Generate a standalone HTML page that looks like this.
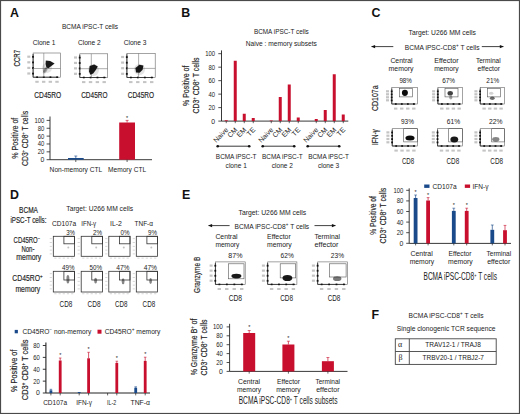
<!DOCTYPE html>
<html><head><meta charset="utf-8"><style>
html,body{margin:0;padding:0;background:#fff;}
svg{display:block;}
text{font-family:"Liberation Sans", sans-serif;}
.c{stroke:#333;stroke-width:0.18px;}
</style></head><body>
<svg width="520" height="414" viewBox="0 0 520 414" fill="#222">
<defs><filter id="bl" x="-50%" y="-50%" width="200%" height="200%"><feGaussianBlur stdDeviation="0.6"/></filter></defs>
<rect x="0.5" y="0.5" width="519" height="413" fill="#fff" stroke="#4a4a4a" stroke-width="1.2"/>
<text x="10" y="17" font-size="12.4" font-weight="bold" fill="#111" >A</text>
<text x="181.2" y="17" font-size="12.4" font-weight="bold" fill="#111" >B</text>
<text x="371.4" y="17.4" font-size="12.4" font-weight="bold" fill="#111" >C</text>
<text x="10" y="199" font-size="12.4" font-weight="bold" fill="#111" >D</text>
<text x="182" y="199.4" font-size="12.4" font-weight="bold" fill="#111" >E</text>
<text x="371.5" y="318.8" font-size="12.4" font-weight="bold" fill="#111" >F</text>
<text x="61.9" y="29.1" font-size="6.8" textLength="56.2" lengthAdjust="spacingAndGlyphs" >BCMA iPSC-T cells</text>
<text x="32.7" y="44.9" font-size="6.8" textLength="22.7" lengthAdjust="spacingAndGlyphs" >Clone 1</text>
<text x="77.9" y="44.9" font-size="6.8" textLength="22.9" lengthAdjust="spacingAndGlyphs" >Clone 2</text>
<text x="123.7" y="44.9" font-size="6.8" textLength="22.8" lengthAdjust="spacingAndGlyphs" >Clone 3</text>
<text transform="translate(19.5 58.2) rotate(-90)" font-size="9.2" text-anchor="middle" textLength="16.5" lengthAdjust="spacingAndGlyphs" class="c" >CCR7</text>
<rect x="33.1" y="53.0" width="27.4" height="24.200000000000003" fill="none" stroke="#666" stroke-width="0.6"/>
<line x1="33.1" y1="54.0" x2="33.1" y2="77.2" stroke="#333" stroke-width="0.9" />
<line x1="33.1" y1="77.2" x2="58.5" y2="77.2" stroke="#333" stroke-width="0.9" />
<rect x="32.1" y="55.9" width="1.8" height="1.8" fill="#111" />
<rect x="36.2" y="76.4" width="1.8" height="1.6" fill="#111" />
<rect x="27.3" y="55.599999999999994" width="3.0" height="2.2" fill="#c4c4c4" />
<rect x="35.300000000000004" y="80.8" width="3.4" height="2.0" fill="#c4c4c4" />
<rect x="32.1" y="61.5" width="1.8" height="1.8" fill="#111" />
<rect x="42.86666666666667" y="76.4" width="1.8" height="1.6" fill="#111" />
<rect x="27.3" y="61.199999999999996" width="3.0" height="2.2" fill="#c4c4c4" />
<rect x="41.96666666666667" y="80.8" width="3.4" height="2.0" fill="#c4c4c4" />
<rect x="32.1" y="67.1" width="1.8" height="1.8" fill="#111" />
<rect x="49.53333333333334" y="76.4" width="1.8" height="1.6" fill="#111" />
<rect x="27.3" y="66.8" width="3.0" height="2.2" fill="#c4c4c4" />
<rect x="48.63333333333334" y="80.8" width="3.4" height="2.0" fill="#c4c4c4" />
<rect x="32.1" y="72.69999999999999" width="1.8" height="1.8" fill="#111" />
<rect x="56.2" y="76.4" width="1.8" height="1.6" fill="#111" />
<rect x="27.3" y="72.39999999999999" width="3.0" height="2.2" fill="#c4c4c4" />
<rect x="55.300000000000004" y="80.8" width="3.4" height="2.0" fill="#c4c4c4" />
<line x1="43.8" y1="53.0" x2="43.8" y2="77.2" stroke="#777" stroke-width="0.6" />
<line x1="33.1" y1="68.5" x2="60.5" y2="68.5" stroke="#777" stroke-width="0.6" />
<rect x="79.8" y="53.8" width="27.900000000000006" height="23.700000000000003" fill="none" stroke="#666" stroke-width="0.6"/>
<line x1="79.8" y1="54.8" x2="79.8" y2="77.5" stroke="#333" stroke-width="0.9" />
<line x1="79.8" y1="77.5" x2="105.7" y2="77.5" stroke="#333" stroke-width="0.9" />
<rect x="78.8" y="56.699999999999996" width="1.8" height="1.8" fill="#111" />
<rect x="82.89999999999999" y="76.7" width="1.8" height="1.6" fill="#111" />
<rect x="74.0" y="56.39999999999999" width="3.0" height="2.2" fill="#c4c4c4" />
<rect x="82.0" y="81.1" width="3.4" height="2.0" fill="#c4c4c4" />
<rect x="78.8" y="62.13333333333333" width="1.8" height="1.8" fill="#111" />
<rect x="89.73333333333332" y="76.7" width="1.8" height="1.6" fill="#111" />
<rect x="74.0" y="61.83333333333333" width="3.0" height="2.2" fill="#c4c4c4" />
<rect x="88.83333333333333" y="81.1" width="3.4" height="2.0" fill="#c4c4c4" />
<rect x="78.8" y="67.56666666666666" width="1.8" height="1.8" fill="#111" />
<rect x="96.56666666666666" y="76.7" width="1.8" height="1.6" fill="#111" />
<rect x="74.0" y="67.26666666666667" width="3.0" height="2.2" fill="#c4c4c4" />
<rect x="95.66666666666667" y="81.1" width="3.4" height="2.0" fill="#c4c4c4" />
<rect x="78.8" y="73.0" width="1.8" height="1.8" fill="#111" />
<rect x="103.4" y="76.7" width="1.8" height="1.6" fill="#111" />
<rect x="74.0" y="72.7" width="3.0" height="2.2" fill="#c4c4c4" />
<rect x="102.50000000000001" y="81.1" width="3.4" height="2.0" fill="#c4c4c4" />
<line x1="91.3" y1="53.8" x2="91.3" y2="77.5" stroke="#777" stroke-width="0.6" />
<line x1="79.8" y1="68.7" x2="107.7" y2="68.7" stroke="#777" stroke-width="0.6" />
<rect x="126.9" y="53.3" width="28.299999999999983" height="24.200000000000003" fill="none" stroke="#666" stroke-width="0.6"/>
<line x1="126.9" y1="54.3" x2="126.9" y2="77.5" stroke="#333" stroke-width="0.9" />
<line x1="126.9" y1="77.5" x2="153.2" y2="77.5" stroke="#333" stroke-width="0.9" />
<rect x="125.9" y="56.199999999999996" width="1.8" height="1.8" fill="#111" />
<rect x="130.0" y="76.7" width="1.8" height="1.6" fill="#111" />
<rect x="121.10000000000001" y="55.89999999999999" width="3.0" height="2.2" fill="#c4c4c4" />
<rect x="129.1" y="81.1" width="3.4" height="2.0" fill="#c4c4c4" />
<rect x="125.9" y="61.8" width="1.8" height="1.8" fill="#111" />
<rect x="136.96666666666667" y="76.7" width="1.8" height="1.6" fill="#111" />
<rect x="121.10000000000001" y="61.49999999999999" width="3.0" height="2.2" fill="#c4c4c4" />
<rect x="136.06666666666666" y="81.1" width="3.4" height="2.0" fill="#c4c4c4" />
<rect x="125.9" y="67.39999999999999" width="1.8" height="1.8" fill="#111" />
<rect x="143.9333333333333" y="76.7" width="1.8" height="1.6" fill="#111" />
<rect x="121.10000000000001" y="67.1" width="3.0" height="2.2" fill="#c4c4c4" />
<rect x="143.0333333333333" y="81.1" width="3.4" height="2.0" fill="#c4c4c4" />
<rect x="125.9" y="73.0" width="1.8" height="1.8" fill="#111" />
<rect x="150.89999999999998" y="76.7" width="1.8" height="1.6" fill="#111" />
<rect x="121.10000000000001" y="72.7" width="3.0" height="2.2" fill="#c4c4c4" />
<rect x="149.99999999999997" y="81.1" width="3.4" height="2.0" fill="#c4c4c4" />
<line x1="138.6" y1="53.3" x2="138.6" y2="77.5" stroke="#777" stroke-width="0.6" />
<line x1="126.9" y1="68.4" x2="155.2" y2="68.4" stroke="#777" stroke-width="0.6" />
<ellipse cx="47" cy="68" rx="5" ry="5" fill="#444" opacity="0.14" transform="rotate(0 47 68)" filter="url(#bl)"/>
<ellipse cx="93.5" cy="70" rx="5.5" ry="6" fill="#444" opacity="0.14" transform="rotate(0 93.5 70)" filter="url(#bl)"/>
<ellipse cx="139.5" cy="69.5" rx="5.5" ry="5.5" fill="#444" opacity="0.14" transform="rotate(0 139.5 69.5)" filter="url(#bl)"/>
<ellipse cx="45.2" cy="70.2" rx="1.5" ry="3.2" fill="#111" opacity="0.45" transform="rotate(30 45.2 70.2)" filter="url(#bl)"/>
<path d="M45.8 60.6 L50.2 61.0 L54.6 63.6 L51.4 66.0 L48.4 68.2 L46.4 67.6 L45.6 64 Z" fill="#111" opacity="0.95" filter="url(#bl)"/>
<path d="M89.6 66.0 L94.2 64.4 L97.8 66.4 L95.8 70.0 L93.2 73.6 L90.4 74.8 L89.0 71.5 Z" fill="#111" opacity="0.95" filter="url(#bl)"/>
<path d="M135.4 68.0 L139.4 64.8 L143.4 65.6 L142.6 69.8 L139.6 72.8 L136.0 72.4 Z" fill="#111" opacity="0.95" filter="url(#bl)"/>
<text x="34.3" y="97.8" font-size="9.4" textLength="26.9" lengthAdjust="spacingAndGlyphs" class="c" >CD45RO</text>
<text x="81.2" y="97.8" font-size="9.4" textLength="26.3" lengthAdjust="spacingAndGlyphs" class="c" >CD45RO</text>
<text x="127.7" y="97.8" font-size="9.4" textLength="26.4" lengthAdjust="spacingAndGlyphs" class="c" >CD45RO</text>
<line x1="50" y1="116.5" x2="50" y2="159.7" stroke="#222" stroke-width="0.9" />
<line x1="50" y1="159.7" x2="152" y2="159.7" stroke="#222" stroke-width="0.9" />
<line x1="46.6" y1="159.7" x2="50" y2="159.7" stroke="#222" stroke-width="0.8" />
<text x="44.4" y="162.17" font-size="6.9" text-anchor="end" >0</text>
<line x1="46.6" y1="151.84" x2="50" y2="151.84" stroke="#222" stroke-width="0.8" />
<text x="44.4" y="154.31" font-size="6.9" text-anchor="end" textLength="6.6" lengthAdjust="spacingAndGlyphs" >20</text>
<line x1="46.6" y1="143.98" x2="50" y2="143.98" stroke="#222" stroke-width="0.8" />
<text x="44.4" y="146.45" font-size="6.9" text-anchor="end" textLength="6.6" lengthAdjust="spacingAndGlyphs" >40</text>
<line x1="46.6" y1="136.12" x2="50" y2="136.12" stroke="#222" stroke-width="0.8" />
<text x="44.4" y="138.59" font-size="6.9" text-anchor="end" textLength="6.6" lengthAdjust="spacingAndGlyphs" >60</text>
<line x1="46.6" y1="128.26" x2="50" y2="128.26" stroke="#222" stroke-width="0.8" />
<text x="44.4" y="130.73" font-size="6.9" text-anchor="end" textLength="6.6" lengthAdjust="spacingAndGlyphs" >80</text>
<line x1="46.6" y1="120.4" x2="50" y2="120.4" stroke="#222" stroke-width="0.8" />
<text x="44.4" y="122.87" font-size="6.9" text-anchor="end" textLength="9.9" lengthAdjust="spacingAndGlyphs" >100</text>
<text transform="translate(18.2 138.2) rotate(-90)" font-size="9.0" text-anchor="middle" textLength="41" lengthAdjust="spacingAndGlyphs" class="c" >% Positive of</text>
<text transform="translate(27.6 138.4) rotate(-90)" font-size="9.0" text-anchor="middle" textLength="55" lengthAdjust="spacingAndGlyphs" class="c" >CD3<tspan font-size="5" dy="-3">+</tspan><tspan dy="3"> CD8</tspan><tspan font-size="5" dy="-3">+</tspan><tspan dy="3"> T cells</tspan></text>
<rect x="68" y="158" width="15.7" height="1.7" fill="#1b4a8b" />
<line x1="75.8" y1="156" x2="75.8" y2="158" stroke="#1b4a8b" stroke-width="0.7" />
<line x1="74.3" y1="156" x2="77.3" y2="156" stroke="#1b4a8b" stroke-width="0.6" />
<rect x="119.2" y="122.5" width="15.8" height="37.2" fill="#c8102e" />
<line x1="127.1" y1="120.4" x2="127.1" y2="122.5" stroke="#c8102e" stroke-width="0.7" />
<line x1="125.6" y1="120.4" x2="128.6" y2="120.4" stroke="#c8102e" stroke-width="0.6" />
<text x="127.1" y="119.6" font-size="5.5" text-anchor="middle" >*</text>
<line x1="75.8" y1="159.7" x2="75.8" y2="162" stroke="#222" stroke-width="0.7" />
<line x1="127.1" y1="159.7" x2="127.1" y2="162" stroke="#222" stroke-width="0.7" />
<text x="49.6" y="172.3" font-size="7.0" textLength="52.7" lengthAdjust="spacingAndGlyphs" >Non-memory CTL</text>
<text x="108.1" y="172.3" font-size="7.0" textLength="38.0" lengthAdjust="spacingAndGlyphs" >Memory CTL</text>
<text x="253.9" y="33.7" font-size="6.5" textLength="54.9" lengthAdjust="spacingAndGlyphs" >BCMA iPSC-T cells</text>
<text x="245.8" y="46.0" font-size="6.5" textLength="71.1" lengthAdjust="spacingAndGlyphs" >Naive : memory subsets</text>
<line x1="221.5" y1="50.4" x2="221.5" y2="121.1" stroke="#222" stroke-width="0.9" />
<line x1="221.5" y1="121.1" x2="348.3" y2="121.1" stroke="#222" stroke-width="0.9" />
<line x1="218.3" y1="121.1" x2="221.5" y2="121.1" stroke="#222" stroke-width="0.8" />
<text x="215.1" y="123.57" font-size="6.9" text-anchor="end" >0</text>
<line x1="218.3" y1="107.62" x2="221.5" y2="107.62" stroke="#222" stroke-width="0.8" />
<text x="215.1" y="110.09" font-size="6.9" text-anchor="end" textLength="6.6" lengthAdjust="spacingAndGlyphs" >20</text>
<line x1="218.3" y1="94.14" x2="221.5" y2="94.14" stroke="#222" stroke-width="0.8" />
<text x="215.1" y="96.61" font-size="6.9" text-anchor="end" textLength="6.6" lengthAdjust="spacingAndGlyphs" >40</text>
<line x1="218.3" y1="80.66" x2="221.5" y2="80.66" stroke="#222" stroke-width="0.8" />
<text x="215.1" y="83.13" font-size="6.9" text-anchor="end" textLength="6.6" lengthAdjust="spacingAndGlyphs" >60</text>
<line x1="218.3" y1="67.18" x2="221.5" y2="67.18" stroke="#222" stroke-width="0.8" />
<text x="215.1" y="69.65" font-size="6.9" text-anchor="end" textLength="6.6" lengthAdjust="spacingAndGlyphs" >80</text>
<line x1="218.3" y1="53.7" x2="221.5" y2="53.7" stroke="#222" stroke-width="0.8" />
<text x="215.1" y="56.17" font-size="6.9" text-anchor="end" textLength="9.9" lengthAdjust="spacingAndGlyphs" >100</text>
<text transform="translate(188.6 85.8) rotate(-90)" font-size="9.2" text-anchor="middle" textLength="40.3" lengthAdjust="spacingAndGlyphs" class="c" >% Positive of</text>
<text transform="translate(199.0 85.5) rotate(-90)" font-size="9.2" text-anchor="middle" textLength="56" lengthAdjust="spacingAndGlyphs" class="c" >CD3<tspan font-size="5.5" dy="-3.2">+</tspan><tspan dy="3.2"> CD8</tspan><tspan font-size="5.5" dy="-3.2">+</tspan><tspan dy="3.2"> T cells</tspan></text>
<rect x="224.75" y="120.25" width="3" height="0.8499999999999943" fill="#c8102e" />
<line x1="226.25" y1="121.1" x2="226.25" y2="123.2" stroke="#222" stroke-width="0.7" />
<text transform="translate(228.85 130.3) rotate(-45)" font-size="7.0" text-anchor="end" >Naive</text>
<rect x="233.75" y="60.75" width="3" height="60.349999999999994" fill="#c8102e" />
<line x1="235.25" y1="121.1" x2="235.25" y2="123.2" stroke="#222" stroke-width="0.7" />
<text transform="translate(237.85 130.3) rotate(-45)" font-size="7.0" text-anchor="end" >CM</text>
<rect x="242.75" y="113.75" width="3" height="7.349999999999994" fill="#c8102e" />
<line x1="244.25" y1="121.1" x2="244.25" y2="123.2" stroke="#222" stroke-width="0.7" />
<text transform="translate(246.85 130.3) rotate(-45)" font-size="7.0" text-anchor="end" >EM</text>
<rect x="251.75" y="118" width="3" height="3.0999999999999943" fill="#c8102e" />
<line x1="253.25" y1="121.1" x2="253.25" y2="123.2" stroke="#222" stroke-width="0.7" />
<text transform="translate(255.85 130.3) rotate(-45)" font-size="7.0" text-anchor="end" >TE</text>
<line x1="217.7" y1="146.2" x2="249.2" y2="146.2" stroke="#222" stroke-width="0.9" />
<circle cx="217.7" cy="146.2" r="1.3" fill="#111"/><circle cx="249.2" cy="146.2" r="1.3" fill="#111"/>
<text x="236.2" y="159.3" font-size="6.8" text-anchor="middle" textLength="40.7" lengthAdjust="spacingAndGlyphs" >BCMA iPSC-T</text>
<text x="236.2" y="168.0" font-size="6.8" text-anchor="middle" textLength="21.2" lengthAdjust="spacingAndGlyphs" >clone 1</text>
<rect x="269.75" y="120.5" width="3" height="0.5999999999999943" fill="#c8102e" />
<line x1="271.25" y1="121.1" x2="271.25" y2="123.2" stroke="#222" stroke-width="0.7" />
<text transform="translate(273.85 130.3) rotate(-45)" font-size="7.0" text-anchor="end" >Naive</text>
<rect x="278.75" y="97" width="3" height="24.099999999999994" fill="#c8102e" />
<line x1="280.25" y1="121.1" x2="280.25" y2="123.2" stroke="#222" stroke-width="0.7" />
<text transform="translate(282.85 130.3) rotate(-45)" font-size="7.0" text-anchor="end" >CM</text>
<rect x="287.75" y="84.5" width="3" height="36.599999999999994" fill="#c8102e" />
<line x1="289.25" y1="121.1" x2="289.25" y2="123.2" stroke="#222" stroke-width="0.7" />
<text transform="translate(291.85 130.3) rotate(-45)" font-size="7.0" text-anchor="end" >EM</text>
<rect x="296.75" y="117.5" width="3" height="3.5999999999999943" fill="#c8102e" />
<line x1="298.25" y1="121.1" x2="298.25" y2="123.2" stroke="#222" stroke-width="0.7" />
<text transform="translate(300.85 130.3) rotate(-45)" font-size="7.0" text-anchor="end" >TE</text>
<line x1="262.7" y1="146.2" x2="294.2" y2="146.2" stroke="#222" stroke-width="0.9" />
<circle cx="262.7" cy="146.2" r="1.3" fill="#111"/><circle cx="294.2" cy="146.2" r="1.3" fill="#111"/>
<text x="282.34999999999997" y="159.3" font-size="6.8" text-anchor="middle" textLength="40.7" lengthAdjust="spacingAndGlyphs" >BCMA iPSC-T</text>
<text x="282.34999999999997" y="168.0" font-size="6.8" text-anchor="middle" textLength="21.2" lengthAdjust="spacingAndGlyphs" >clone 2</text>
<rect x="314.75" y="119" width="3" height="2.0999999999999943" fill="#c8102e" />
<line x1="316.25" y1="121.1" x2="316.25" y2="123.2" stroke="#222" stroke-width="0.7" />
<text transform="translate(318.85 130.3) rotate(-45)" font-size="7.0" text-anchor="end" >Naive</text>
<rect x="323.75" y="110" width="3" height="11.099999999999994" fill="#c8102e" />
<line x1="325.25" y1="121.1" x2="325.25" y2="123.2" stroke="#222" stroke-width="0.7" />
<text transform="translate(327.85 130.3) rotate(-45)" font-size="7.0" text-anchor="end" >CM</text>
<rect x="332.75" y="74.25" width="3" height="46.849999999999994" fill="#c8102e" />
<line x1="334.25" y1="121.1" x2="334.25" y2="123.2" stroke="#222" stroke-width="0.7" />
<text transform="translate(336.85 130.3) rotate(-45)" font-size="7.0" text-anchor="end" >EM</text>
<rect x="341.75" y="114.5" width="3" height="6.599999999999994" fill="#c8102e" />
<line x1="343.25" y1="121.1" x2="343.25" y2="123.2" stroke="#222" stroke-width="0.7" />
<text transform="translate(345.85 130.3) rotate(-45)" font-size="7.0" text-anchor="end" >TE</text>
<line x1="307.7" y1="146.2" x2="339.2" y2="146.2" stroke="#222" stroke-width="0.9" />
<circle cx="307.7" cy="146.2" r="1.3" fill="#111"/><circle cx="339.2" cy="146.2" r="1.3" fill="#111"/>
<text x="328.5" y="159.3" font-size="6.8" text-anchor="middle" textLength="40.7" lengthAdjust="spacingAndGlyphs" >BCMA iPSC-T</text>
<text x="328.5" y="168.0" font-size="6.8" text-anchor="middle" textLength="21.2" lengthAdjust="spacingAndGlyphs" >clone 3</text>
<text x="408.6" y="34.6" font-size="6.6" textLength="67.2" lengthAdjust="spacingAndGlyphs" >Target: U266 MM cells</text>
<text x="404.8" y="49.9" font-size="6.6" textLength="74.7" lengthAdjust="spacingAndGlyphs" >BCMA iPSC-CD8<tspan font-size="4.5" dy="-2.6">+</tspan><tspan dy="2.6"> T cells</tspan></text>
<line x1="371.6" y1="46.6" x2="393.3" y2="46.6" stroke="#111" stroke-width="0.8" />
<path d="M371.1 46.6 L375.1 45.0 L375.1 48.2 Z" fill="#111"/>
<line x1="481.8" y1="46.6" x2="503.3" y2="46.6" stroke="#111" stroke-width="0.8" />
<path d="M503.8 46.6 L499.8 45.0 L499.8 48.2 Z" fill="#111"/>
<text x="390.4" y="62.7" font-size="6.6" textLength="22.2" lengthAdjust="spacingAndGlyphs" >Central</text>
<text x="388.6" y="70.6" font-size="6.6" textLength="24.9" lengthAdjust="spacingAndGlyphs" >memory</text>
<text x="434.2" y="62.7" font-size="6.6" textLength="24.5" lengthAdjust="spacingAndGlyphs" >Effector</text>
<text x="434.2" y="70.6" font-size="6.6" textLength="24.5" lengthAdjust="spacingAndGlyphs" >memory</text>
<text x="476" y="62.7" font-size="6.6" textLength="24.6" lengthAdjust="spacingAndGlyphs" >Terminal</text>
<text x="477.5" y="70.6" font-size="6.6" textLength="22.5" lengthAdjust="spacingAndGlyphs" >effector</text>
<text x="399.4" y="83.0" font-size="6.6" textLength="12.5" lengthAdjust="spacingAndGlyphs" >98%</text>
<text x="442.2" y="83.0" font-size="6.6" textLength="12.9" lengthAdjust="spacingAndGlyphs" >67%</text>
<text x="486.3" y="83.0" font-size="6.6" textLength="12.9" lengthAdjust="spacingAndGlyphs" >21%</text>
<text x="401" y="124.0" font-size="6.6" textLength="13" lengthAdjust="spacingAndGlyphs" >93%</text>
<text x="446.8" y="124.0" font-size="6.6" textLength="13.4" lengthAdjust="spacingAndGlyphs" >61%</text>
<text x="489" y="124.0" font-size="6.6" textLength="13.5" lengthAdjust="spacingAndGlyphs" >22%</text>
<text transform="translate(378.2 98.2) rotate(-90)" font-size="8.9" text-anchor="middle" textLength="25.5" lengthAdjust="spacingAndGlyphs" class="c" >CD107a</text>
<text transform="translate(377.6 137.1) rotate(-90)" font-size="8.9" text-anchor="middle" textLength="16" lengthAdjust="spacingAndGlyphs" class="c" >IFN-γ</text>
<rect x="391.8" y="87.6" width="25.5" height="16.400000000000006" fill="none" stroke="#666" stroke-width="0.6"/>
<line x1="391.8" y1="88.6" x2="391.8" y2="104" stroke="#333" stroke-width="0.9" />
<line x1="391.8" y1="104" x2="415.3" y2="104" stroke="#333" stroke-width="0.9" />
<rect x="390.8" y="90.49999999999999" width="1.8" height="1.8" fill="#111" />
<rect x="394.90000000000003" y="103.2" width="1.8" height="1.6" fill="#111" />
<rect x="386.0" y="90.19999999999999" width="3.0" height="2.2" fill="#c4c4c4" />
<rect x="394.0" y="107.6" width="3.4" height="2.0" fill="#c4c4c4" />
<rect x="390.8" y="93.49999999999999" width="1.8" height="1.8" fill="#111" />
<rect x="400.9333333333334" y="103.2" width="1.8" height="1.6" fill="#111" />
<rect x="386.0" y="93.19999999999999" width="3.0" height="2.2" fill="#c4c4c4" />
<rect x="400.03333333333336" y="107.6" width="3.4" height="2.0" fill="#c4c4c4" />
<rect x="390.8" y="96.49999999999999" width="1.8" height="1.8" fill="#111" />
<rect x="406.9666666666667" y="103.2" width="1.8" height="1.6" fill="#111" />
<rect x="386.0" y="96.19999999999999" width="3.0" height="2.2" fill="#c4c4c4" />
<rect x="406.06666666666666" y="107.6" width="3.4" height="2.0" fill="#c4c4c4" />
<rect x="390.8" y="99.49999999999999" width="1.8" height="1.8" fill="#111" />
<rect x="413.00000000000006" y="103.2" width="1.8" height="1.6" fill="#111" />
<rect x="386.0" y="99.19999999999999" width="3.0" height="2.2" fill="#c4c4c4" />
<rect x="412.1" y="107.6" width="3.4" height="2.0" fill="#c4c4c4" />
<rect x="399.4" y="88.4" width="12.900000000000034" height="8.5" fill="none" stroke="#555" stroke-width="0.6"/>
<rect x="437.9" y="87.6" width="24.80000000000001" height="16.400000000000006" fill="none" stroke="#666" stroke-width="0.6"/>
<line x1="437.9" y1="88.6" x2="437.9" y2="104" stroke="#333" stroke-width="0.9" />
<line x1="437.9" y1="104" x2="460.7" y2="104" stroke="#333" stroke-width="0.9" />
<rect x="436.9" y="90.49999999999999" width="1.8" height="1.8" fill="#111" />
<rect x="441.0" y="103.2" width="1.8" height="1.6" fill="#111" />
<rect x="432.09999999999997" y="90.19999999999999" width="3.0" height="2.2" fill="#c4c4c4" />
<rect x="440.09999999999997" y="107.6" width="3.4" height="2.0" fill="#c4c4c4" />
<rect x="436.9" y="93.49999999999999" width="1.8" height="1.8" fill="#111" />
<rect x="446.8" y="103.2" width="1.8" height="1.6" fill="#111" />
<rect x="432.09999999999997" y="93.19999999999999" width="3.0" height="2.2" fill="#c4c4c4" />
<rect x="445.9" y="107.6" width="3.4" height="2.0" fill="#c4c4c4" />
<rect x="436.9" y="96.49999999999999" width="1.8" height="1.8" fill="#111" />
<rect x="452.6" y="103.2" width="1.8" height="1.6" fill="#111" />
<rect x="432.09999999999997" y="96.19999999999999" width="3.0" height="2.2" fill="#c4c4c4" />
<rect x="451.7" y="107.6" width="3.4" height="2.0" fill="#c4c4c4" />
<rect x="436.9" y="99.49999999999999" width="1.8" height="1.8" fill="#111" />
<rect x="458.40000000000003" y="103.2" width="1.8" height="1.6" fill="#111" />
<rect x="432.09999999999997" y="99.19999999999999" width="3.0" height="2.2" fill="#c4c4c4" />
<rect x="457.5" y="107.6" width="3.4" height="2.0" fill="#c4c4c4" />
<rect x="445" y="88.4" width="13" height="8.5" fill="none" stroke="#555" stroke-width="0.6"/>
<rect x="480.2" y="87.6" width="24.400000000000034" height="16.400000000000006" fill="none" stroke="#666" stroke-width="0.6"/>
<line x1="480.2" y1="88.6" x2="480.2" y2="104" stroke="#333" stroke-width="0.9" />
<line x1="480.2" y1="104" x2="502.6" y2="104" stroke="#333" stroke-width="0.9" />
<rect x="479.2" y="90.49999999999999" width="1.8" height="1.8" fill="#111" />
<rect x="483.3" y="103.2" width="1.8" height="1.6" fill="#111" />
<rect x="474.4" y="90.19999999999999" width="3.0" height="2.2" fill="#c4c4c4" />
<rect x="482.4" y="107.6" width="3.4" height="2.0" fill="#c4c4c4" />
<rect x="479.2" y="93.49999999999999" width="1.8" height="1.8" fill="#111" />
<rect x="488.9666666666667" y="103.2" width="1.8" height="1.6" fill="#111" />
<rect x="474.4" y="93.19999999999999" width="3.0" height="2.2" fill="#c4c4c4" />
<rect x="488.06666666666666" y="107.6" width="3.4" height="2.0" fill="#c4c4c4" />
<rect x="479.2" y="96.49999999999999" width="1.8" height="1.8" fill="#111" />
<rect x="494.6333333333334" y="103.2" width="1.8" height="1.6" fill="#111" />
<rect x="474.4" y="96.19999999999999" width="3.0" height="2.2" fill="#c4c4c4" />
<rect x="493.73333333333335" y="107.6" width="3.4" height="2.0" fill="#c4c4c4" />
<rect x="479.2" y="99.49999999999999" width="1.8" height="1.8" fill="#111" />
<rect x="500.30000000000007" y="103.2" width="1.8" height="1.6" fill="#111" />
<rect x="474.4" y="99.19999999999999" width="3.0" height="2.2" fill="#c4c4c4" />
<rect x="499.40000000000003" y="107.6" width="3.4" height="2.0" fill="#c4c4c4" />
<rect x="487.3" y="88.4" width="13.099999999999966" height="8.5" fill="none" stroke="#555" stroke-width="0.6"/>
<rect x="392.2" y="128.7" width="25.19999999999999" height="17.30000000000001" fill="none" stroke="#666" stroke-width="0.6"/>
<line x1="392.2" y1="129.7" x2="392.2" y2="146" stroke="#333" stroke-width="0.9" />
<line x1="392.2" y1="146" x2="415.4" y2="146" stroke="#333" stroke-width="0.9" />
<rect x="391.2" y="131.6" width="1.8" height="1.8" fill="#111" />
<rect x="395.3" y="145.2" width="1.8" height="1.6" fill="#111" />
<rect x="386.4" y="131.3" width="3.0" height="2.2" fill="#c4c4c4" />
<rect x="394.4" y="149.6" width="3.4" height="2.0" fill="#c4c4c4" />
<rect x="391.2" y="134.9" width="1.8" height="1.8" fill="#111" />
<rect x="401.23333333333335" y="145.2" width="1.8" height="1.6" fill="#111" />
<rect x="386.4" y="134.60000000000002" width="3.0" height="2.2" fill="#c4c4c4" />
<rect x="400.3333333333333" y="149.6" width="3.4" height="2.0" fill="#c4c4c4" />
<rect x="391.2" y="138.2" width="1.8" height="1.8" fill="#111" />
<rect x="407.1666666666667" y="145.2" width="1.8" height="1.6" fill="#111" />
<rect x="386.4" y="137.9" width="3.0" height="2.2" fill="#c4c4c4" />
<rect x="406.26666666666665" y="149.6" width="3.4" height="2.0" fill="#c4c4c4" />
<rect x="391.2" y="141.5" width="1.8" height="1.8" fill="#111" />
<rect x="413.1" y="145.2" width="1.8" height="1.6" fill="#111" />
<rect x="386.4" y="141.20000000000002" width="3.0" height="2.2" fill="#c4c4c4" />
<rect x="412.2" y="149.6" width="3.4" height="2.0" fill="#c4c4c4" />
<rect x="403.7" y="128.7" width="13.699999999999989" height="13.2" fill="none" stroke="#555" stroke-width="0.6"/>
<rect x="437.6" y="128.7" width="24.799999999999955" height="17.30000000000001" fill="none" stroke="#666" stroke-width="0.6"/>
<line x1="437.6" y1="129.7" x2="437.6" y2="146" stroke="#333" stroke-width="0.9" />
<line x1="437.6" y1="146" x2="460.4" y2="146" stroke="#333" stroke-width="0.9" />
<rect x="436.6" y="131.6" width="1.8" height="1.8" fill="#111" />
<rect x="440.70000000000005" y="145.2" width="1.8" height="1.6" fill="#111" />
<rect x="431.8" y="131.3" width="3.0" height="2.2" fill="#c4c4c4" />
<rect x="439.8" y="149.6" width="3.4" height="2.0" fill="#c4c4c4" />
<rect x="436.6" y="134.9" width="1.8" height="1.8" fill="#111" />
<rect x="446.50000000000006" y="145.2" width="1.8" height="1.6" fill="#111" />
<rect x="431.8" y="134.60000000000002" width="3.0" height="2.2" fill="#c4c4c4" />
<rect x="445.6" y="149.6" width="3.4" height="2.0" fill="#c4c4c4" />
<rect x="436.6" y="138.2" width="1.8" height="1.8" fill="#111" />
<rect x="452.3" y="145.2" width="1.8" height="1.6" fill="#111" />
<rect x="431.8" y="137.9" width="3.0" height="2.2" fill="#c4c4c4" />
<rect x="451.4" y="149.6" width="3.4" height="2.0" fill="#c4c4c4" />
<rect x="436.6" y="141.5" width="1.8" height="1.8" fill="#111" />
<rect x="458.1" y="145.2" width="1.8" height="1.6" fill="#111" />
<rect x="431.8" y="141.20000000000002" width="3.0" height="2.2" fill="#c4c4c4" />
<rect x="457.2" y="149.6" width="3.4" height="2.0" fill="#c4c4c4" />
<rect x="448.7" y="128.7" width="13.699999999999989" height="13.2" fill="none" stroke="#555" stroke-width="0.6"/>
<rect x="480.2" y="128.7" width="24.30000000000001" height="17.30000000000001" fill="none" stroke="#666" stroke-width="0.6"/>
<line x1="480.2" y1="129.7" x2="480.2" y2="146" stroke="#333" stroke-width="0.9" />
<line x1="480.2" y1="146" x2="502.5" y2="146" stroke="#333" stroke-width="0.9" />
<rect x="479.2" y="131.6" width="1.8" height="1.8" fill="#111" />
<rect x="483.3" y="145.2" width="1.8" height="1.6" fill="#111" />
<rect x="474.4" y="131.3" width="3.0" height="2.2" fill="#c4c4c4" />
<rect x="482.4" y="149.6" width="3.4" height="2.0" fill="#c4c4c4" />
<rect x="479.2" y="134.9" width="1.8" height="1.8" fill="#111" />
<rect x="488.93333333333334" y="145.2" width="1.8" height="1.6" fill="#111" />
<rect x="474.4" y="134.60000000000002" width="3.0" height="2.2" fill="#c4c4c4" />
<rect x="488.0333333333333" y="149.6" width="3.4" height="2.0" fill="#c4c4c4" />
<rect x="479.2" y="138.2" width="1.8" height="1.8" fill="#111" />
<rect x="494.56666666666666" y="145.2" width="1.8" height="1.6" fill="#111" />
<rect x="474.4" y="137.9" width="3.0" height="2.2" fill="#c4c4c4" />
<rect x="493.66666666666663" y="149.6" width="3.4" height="2.0" fill="#c4c4c4" />
<rect x="479.2" y="141.5" width="1.8" height="1.8" fill="#111" />
<rect x="500.20000000000005" y="145.2" width="1.8" height="1.6" fill="#111" />
<rect x="474.4" y="141.20000000000002" width="3.0" height="2.2" fill="#c4c4c4" />
<rect x="499.3" y="149.6" width="3.4" height="2.0" fill="#c4c4c4" />
<rect x="491.7" y="128.7" width="12.800000000000011" height="13.2" fill="none" stroke="#555" stroke-width="0.6"/>
<ellipse cx="404.9" cy="92.8" rx="3.0" ry="3.1" fill="#111" opacity="1" transform="rotate(0 404.9 92.8)" filter="url(#bl)"/>
<ellipse cx="450.2" cy="93.3" rx="2.7" ry="2.3" fill="#111" opacity="0.78" transform="rotate(0 450.2 93.3)" filter="url(#bl)"/>
<ellipse cx="450.8" cy="97.6" rx="1.6" ry="2.0" fill="#111" opacity="0.35" transform="rotate(0 450.8 97.6)" filter="url(#bl)"/>
<ellipse cx="491.2" cy="93.2" rx="2.2" ry="1.5" fill="#111" opacity="0.18" transform="rotate(0 491.2 93.2)" filter="url(#bl)"/>
<ellipse cx="492.3" cy="98.3" rx="2.4" ry="1.7" fill="#111" opacity="0.6" transform="rotate(0 492.3 98.3)" filter="url(#bl)"/>
<ellipse cx="410.0" cy="137.9" rx="4.6" ry="2.5" fill="#111" opacity="1" transform="rotate(0 410.0 137.9)" filter="url(#bl)"/>
<ellipse cx="454.3" cy="139.5" rx="3.9" ry="2.9" fill="#111" opacity="0.95" transform="rotate(0 454.3 139.5)" filter="url(#bl)"/>
<ellipse cx="495.8" cy="139.3" rx="3.6" ry="2.4" fill="#111" opacity="0.5" transform="rotate(0 495.8 139.3)" filter="url(#bl)"/>
<text x="401.9" y="164.3" font-size="9.8" textLength="12.3" lengthAdjust="spacingAndGlyphs" >CD8</text>
<text x="446.5" y="164.3" font-size="9.8" textLength="12.7" lengthAdjust="spacingAndGlyphs" >CD8</text>
<text x="490.3" y="164.3" font-size="9.8" textLength="12.7" lengthAdjust="spacingAndGlyphs" >CD8</text>
<line x1="409.2" y1="188.3" x2="409.2" y2="243.4" stroke="#222" stroke-width="0.9" />
<line x1="409.2" y1="243.4" x2="511" y2="243.4" stroke="#222" stroke-width="0.9" />
<line x1="406.2" y1="243.3" x2="409.2" y2="243.3" stroke="#222" stroke-width="0.8" />
<text x="403.4" y="245.77" font-size="6.9" text-anchor="end" >0</text>
<line x1="406.2" y1="232.70000000000002" x2="409.2" y2="232.70000000000002" stroke="#222" stroke-width="0.8" />
<text x="403.4" y="235.17" font-size="6.9" text-anchor="end" textLength="6.6" lengthAdjust="spacingAndGlyphs" >20</text>
<line x1="406.2" y1="222.10000000000002" x2="409.2" y2="222.10000000000002" stroke="#222" stroke-width="0.8" />
<text x="403.4" y="224.57" font-size="6.9" text-anchor="end" textLength="6.6" lengthAdjust="spacingAndGlyphs" >40</text>
<line x1="406.2" y1="211.5" x2="409.2" y2="211.5" stroke="#222" stroke-width="0.8" />
<text x="403.4" y="213.97" font-size="6.9" text-anchor="end" textLength="6.6" lengthAdjust="spacingAndGlyphs" >60</text>
<line x1="406.2" y1="200.9" x2="409.2" y2="200.9" stroke="#222" stroke-width="0.8" />
<text x="403.4" y="203.37" font-size="6.9" text-anchor="end" textLength="6.6" lengthAdjust="spacingAndGlyphs" >80</text>
<line x1="406.2" y1="190.3" x2="409.2" y2="190.3" stroke="#222" stroke-width="0.8" />
<text x="403.4" y="192.77" font-size="6.9" text-anchor="end" textLength="9.9" lengthAdjust="spacingAndGlyphs" >100</text>
<text transform="translate(375.5 215.4) rotate(-90)" font-size="9.2" text-anchor="middle" textLength="38.7" lengthAdjust="spacingAndGlyphs" class="c" >% Positive of</text>
<text transform="translate(386.1 215.6) rotate(-90)" font-size="9.2" text-anchor="middle" textLength="55.6" lengthAdjust="spacingAndGlyphs" class="c" >CD3<tspan font-size="5.5" dy="-3.2">+</tspan><tspan dy="3.2"> CD8</tspan><tspan font-size="5.5" dy="-3.2">+</tspan><tspan dy="3.2"> T cells</tspan></text>
<rect x="413.70000000000005" y="198" width="3.8" height="45.400000000000006" fill="#1b4a8b" />
<line x1="415.6" y1="195" x2="415.6" y2="198" stroke="#1b4a8b" stroke-width="0.7" />
<line x1="414.20000000000005" y1="195" x2="417.0" y2="195" stroke="#1b4a8b" stroke-width="0.6" />
<text x="415.6" y="194.0" font-size="5.5" text-anchor="middle" >*</text>
<line x1="415.6" y1="243.4" x2="415.6" y2="245.4" stroke="#222" stroke-width="0.7" />
<rect x="426.20000000000005" y="200.5" width="3.8" height="42.900000000000006" fill="#c8102e" />
<line x1="428.1" y1="197.6" x2="428.1" y2="200.5" stroke="#c8102e" stroke-width="0.7" />
<line x1="426.70000000000005" y1="197.6" x2="429.5" y2="197.6" stroke="#c8102e" stroke-width="0.6" />
<text x="428.1" y="196.6" font-size="5.5" text-anchor="middle" >*</text>
<line x1="428.1" y1="243.4" x2="428.1" y2="245.4" stroke="#222" stroke-width="0.7" />
<rect x="451.90000000000003" y="210.9" width="3.8" height="32.5" fill="#1b4a8b" />
<line x1="453.8" y1="208.2" x2="453.8" y2="210.9" stroke="#1b4a8b" stroke-width="0.7" />
<line x1="452.40000000000003" y1="208.2" x2="455.2" y2="208.2" stroke="#1b4a8b" stroke-width="0.6" />
<text x="453.8" y="207.2" font-size="5.5" text-anchor="middle" >*</text>
<line x1="453.8" y1="243.4" x2="453.8" y2="245.4" stroke="#222" stroke-width="0.7" />
<rect x="464.8" y="210.9" width="3.8" height="32.5" fill="#c8102e" />
<line x1="466.7" y1="208.2" x2="466.7" y2="210.9" stroke="#c8102e" stroke-width="0.7" />
<line x1="465.3" y1="208.2" x2="468.09999999999997" y2="208.2" stroke="#c8102e" stroke-width="0.6" />
<text x="466.7" y="207.2" font-size="5.5" text-anchor="middle" >*</text>
<line x1="466.7" y1="243.4" x2="466.7" y2="245.4" stroke="#222" stroke-width="0.7" />
<rect x="490.40000000000003" y="229.8" width="3.8" height="13.599999999999994" fill="#1b4a8b" />
<line x1="492.3" y1="225" x2="492.3" y2="229.8" stroke="#1b4a8b" stroke-width="0.7" />
<line x1="490.90000000000003" y1="225" x2="493.7" y2="225" stroke="#1b4a8b" stroke-width="0.6" />
<line x1="492.3" y1="243.4" x2="492.3" y2="245.4" stroke="#222" stroke-width="0.7" />
<rect x="503.1" y="230.2" width="3.8" height="13.200000000000017" fill="#c8102e" />
<line x1="505" y1="225.4" x2="505" y2="230.2" stroke="#c8102e" stroke-width="0.7" />
<line x1="503.6" y1="225.4" x2="506.4" y2="225.4" stroke="#c8102e" stroke-width="0.6" />
<line x1="505" y1="243.4" x2="505" y2="245.4" stroke="#222" stroke-width="0.7" />
<rect x="424.2" y="184.5" width="5.3" height="3.4" fill="#1b4a8b" />
<text x="432.5" y="188.6" font-size="6.6" textLength="24.2" lengthAdjust="spacingAndGlyphs" >CD107a</text>
<rect x="464.8" y="184.5" width="5.3" height="3.4" fill="#c8102e" />
<text x="472.5" y="188.6" font-size="6.6" textLength="16.0" lengthAdjust="spacingAndGlyphs" >IFN-γ</text>
<text x="410.4" y="255.7" font-size="6.6" textLength="22.4" lengthAdjust="spacingAndGlyphs" >Central</text>
<text x="409.7" y="264.0" font-size="6.6" textLength="24.5" lengthAdjust="spacingAndGlyphs" >memory</text>
<text x="448.5" y="255.7" font-size="6.6" textLength="23.0" lengthAdjust="spacingAndGlyphs" >Effector</text>
<text x="448" y="264.0" font-size="6.6" textLength="24.7" lengthAdjust="spacingAndGlyphs" >memory</text>
<text x="486.5" y="255.7" font-size="6.6" textLength="24.7" lengthAdjust="spacingAndGlyphs" >Terminal</text>
<text x="487.2" y="264.0" font-size="6.6" textLength="23.1" lengthAdjust="spacingAndGlyphs" >effector</text>
<text x="423.5" y="279.8" font-size="10.2" textLength="73.5" lengthAdjust="spacingAndGlyphs" >BCMA iPSC-CD8<tspan font-size="6" dy="-3.2">+</tspan><tspan dy="3.2"> T cells</tspan></text>
<text x="19" y="213.2" font-size="8.6" textLength="19" lengthAdjust="spacingAndGlyphs" class="c" >BCMA</text>
<text x="10.4" y="222.6" font-size="8.6" textLength="36.0" lengthAdjust="spacingAndGlyphs" class="c" >iPSC-T cells:</text>
<text x="66.3" y="211.0" font-size="6.5" textLength="66.7" lengthAdjust="spacingAndGlyphs" >Target: U266 MM cells</text>
<text x="52" y="225.6" font-size="6.6" textLength="24.2" lengthAdjust="spacingAndGlyphs" >CD107a</text>
<text x="81.2" y="225.6" font-size="6.6" textLength="15.0" lengthAdjust="spacingAndGlyphs" >IFN-γ</text>
<text x="110" y="225.6" font-size="6.6" textLength="12" lengthAdjust="spacingAndGlyphs" >IL-2</text>
<text x="134.5" y="225.6" font-size="6.6" textLength="18.5" lengthAdjust="spacingAndGlyphs" >TNF-α</text>
<text x="66.2" y="234.8" font-size="6.6" textLength="8.8" lengthAdjust="spacingAndGlyphs" >3%</text>
<text x="93" y="234.8" font-size="6.6" textLength="9" lengthAdjust="spacingAndGlyphs" >2%</text>
<text x="120.5" y="234.8" font-size="6.6" textLength="9.0" lengthAdjust="spacingAndGlyphs" >0%</text>
<text x="148" y="234.8" font-size="6.6" textLength="9" lengthAdjust="spacingAndGlyphs" >9%</text>
<text x="62" y="269.8" font-size="6.6" textLength="12.5" lengthAdjust="spacingAndGlyphs" >49%</text>
<text x="89.5" y="269.8" font-size="6.6" textLength="12.5" lengthAdjust="spacingAndGlyphs" >50%</text>
<text x="116.2" y="269.8" font-size="6.6" textLength="13.3" lengthAdjust="spacingAndGlyphs" >47%</text>
<text x="143.7" y="269.8" font-size="6.6" textLength="13.3" lengthAdjust="spacingAndGlyphs" >47%</text>
<rect x="53.3" y="236.3" width="21.200000000000003" height="20.0" fill="none" stroke="#333" stroke-width="0.8"/>
<rect x="63.9" y="236.3" width="10.600000000000003" height="7.5" fill="none" stroke="#333" stroke-width="0.8"/>
<rect x="49.699999999999996" y="238.3" width="2.2" height="0.8" fill="#ccc" />
<rect x="54.3" y="257.7" width="2.2" height="0.8" fill="#ccc" />
<rect x="49.699999999999996" y="242.10000000000002" width="2.2" height="0.8" fill="#ccc" />
<rect x="58.5" y="257.7" width="2.2" height="0.8" fill="#ccc" />
<rect x="49.699999999999996" y="245.9" width="2.2" height="0.8" fill="#ccc" />
<rect x="62.699999999999996" y="257.7" width="2.2" height="0.8" fill="#ccc" />
<rect x="49.699999999999996" y="249.70000000000002" width="2.2" height="0.8" fill="#ccc" />
<rect x="66.9" y="257.7" width="2.2" height="0.8" fill="#ccc" />
<rect x="49.699999999999996" y="253.5" width="2.2" height="0.8" fill="#ccc" />
<rect x="71.1" y="257.7" width="2.2" height="0.8" fill="#ccc" />
<rect x="53.3" y="271.3" width="21.200000000000003" height="20.69999999999999" fill="none" stroke="#333" stroke-width="0.8"/>
<rect x="63.9" y="271.3" width="10.600000000000003" height="8.699999999999989" fill="none" stroke="#333" stroke-width="0.8"/>
<rect x="49.699999999999996" y="273.3" width="2.2" height="0.8" fill="#ccc" />
<rect x="54.3" y="293.4" width="2.2" height="0.8" fill="#ccc" />
<rect x="49.699999999999996" y="277.1" width="2.2" height="0.8" fill="#ccc" />
<rect x="58.5" y="293.4" width="2.2" height="0.8" fill="#ccc" />
<rect x="49.699999999999996" y="280.90000000000003" width="2.2" height="0.8" fill="#ccc" />
<rect x="62.699999999999996" y="293.4" width="2.2" height="0.8" fill="#ccc" />
<rect x="49.699999999999996" y="284.7" width="2.2" height="0.8" fill="#ccc" />
<rect x="66.9" y="293.4" width="2.2" height="0.8" fill="#ccc" />
<rect x="49.699999999999996" y="288.5" width="2.2" height="0.8" fill="#ccc" />
<rect x="71.1" y="293.4" width="2.2" height="0.8" fill="#ccc" />
<ellipse cx="68.3" cy="247.5" rx="1.0" ry="1.0" fill="#111" opacity="0.25" transform="rotate(0 68.3 247.5)" filter="url(#bl)"/>
<rect x="81.2" y="236.3" width="21.200000000000003" height="20.0" fill="none" stroke="#333" stroke-width="0.8"/>
<rect x="91.8" y="236.3" width="10.600000000000003" height="7.5" fill="none" stroke="#333" stroke-width="0.8"/>
<rect x="77.60000000000001" y="238.3" width="2.2" height="0.8" fill="#ccc" />
<rect x="82.2" y="257.7" width="2.2" height="0.8" fill="#ccc" />
<rect x="77.60000000000001" y="242.10000000000002" width="2.2" height="0.8" fill="#ccc" />
<rect x="86.4" y="257.7" width="2.2" height="0.8" fill="#ccc" />
<rect x="77.60000000000001" y="245.9" width="2.2" height="0.8" fill="#ccc" />
<rect x="90.60000000000001" y="257.7" width="2.2" height="0.8" fill="#ccc" />
<rect x="77.60000000000001" y="249.70000000000002" width="2.2" height="0.8" fill="#ccc" />
<rect x="94.80000000000001" y="257.7" width="2.2" height="0.8" fill="#ccc" />
<rect x="77.60000000000001" y="253.5" width="2.2" height="0.8" fill="#ccc" />
<rect x="99.0" y="257.7" width="2.2" height="0.8" fill="#ccc" />
<rect x="81.2" y="271.3" width="21.200000000000003" height="20.69999999999999" fill="none" stroke="#333" stroke-width="0.8"/>
<rect x="91.8" y="271.3" width="10.600000000000003" height="8.699999999999989" fill="none" stroke="#333" stroke-width="0.8"/>
<rect x="77.60000000000001" y="273.3" width="2.2" height="0.8" fill="#ccc" />
<rect x="82.2" y="293.4" width="2.2" height="0.8" fill="#ccc" />
<rect x="77.60000000000001" y="277.1" width="2.2" height="0.8" fill="#ccc" />
<rect x="86.4" y="293.4" width="2.2" height="0.8" fill="#ccc" />
<rect x="77.60000000000001" y="280.90000000000003" width="2.2" height="0.8" fill="#ccc" />
<rect x="90.60000000000001" y="293.4" width="2.2" height="0.8" fill="#ccc" />
<rect x="77.60000000000001" y="284.7" width="2.2" height="0.8" fill="#ccc" />
<rect x="94.80000000000001" y="293.4" width="2.2" height="0.8" fill="#ccc" />
<rect x="77.60000000000001" y="288.5" width="2.2" height="0.8" fill="#ccc" />
<rect x="99.0" y="293.4" width="2.2" height="0.8" fill="#ccc" />
<ellipse cx="96.2" cy="247.5" rx="1.0" ry="1.0" fill="#111" opacity="0.25" transform="rotate(0 96.2 247.5)" filter="url(#bl)"/>
<rect x="108.8" y="236.3" width="21.200000000000003" height="20.0" fill="none" stroke="#333" stroke-width="0.8"/>
<rect x="119.39999999999999" y="236.3" width="10.600000000000003" height="7.5" fill="none" stroke="#333" stroke-width="0.8"/>
<rect x="105.2" y="238.3" width="2.2" height="0.8" fill="#ccc" />
<rect x="109.8" y="257.7" width="2.2" height="0.8" fill="#ccc" />
<rect x="105.2" y="242.10000000000002" width="2.2" height="0.8" fill="#ccc" />
<rect x="114.0" y="257.7" width="2.2" height="0.8" fill="#ccc" />
<rect x="105.2" y="245.9" width="2.2" height="0.8" fill="#ccc" />
<rect x="118.2" y="257.7" width="2.2" height="0.8" fill="#ccc" />
<rect x="105.2" y="249.70000000000002" width="2.2" height="0.8" fill="#ccc" />
<rect x="122.4" y="257.7" width="2.2" height="0.8" fill="#ccc" />
<rect x="105.2" y="253.5" width="2.2" height="0.8" fill="#ccc" />
<rect x="126.6" y="257.7" width="2.2" height="0.8" fill="#ccc" />
<rect x="108.8" y="271.3" width="21.200000000000003" height="20.69999999999999" fill="none" stroke="#333" stroke-width="0.8"/>
<rect x="119.39999999999999" y="271.3" width="10.600000000000003" height="8.699999999999989" fill="none" stroke="#333" stroke-width="0.8"/>
<rect x="105.2" y="273.3" width="2.2" height="0.8" fill="#ccc" />
<rect x="109.8" y="293.4" width="2.2" height="0.8" fill="#ccc" />
<rect x="105.2" y="277.1" width="2.2" height="0.8" fill="#ccc" />
<rect x="114.0" y="293.4" width="2.2" height="0.8" fill="#ccc" />
<rect x="105.2" y="280.90000000000003" width="2.2" height="0.8" fill="#ccc" />
<rect x="118.2" y="293.4" width="2.2" height="0.8" fill="#ccc" />
<rect x="105.2" y="284.7" width="2.2" height="0.8" fill="#ccc" />
<rect x="122.4" y="293.4" width="2.2" height="0.8" fill="#ccc" />
<rect x="105.2" y="288.5" width="2.2" height="0.8" fill="#ccc" />
<rect x="126.6" y="293.4" width="2.2" height="0.8" fill="#ccc" />
<ellipse cx="123.8" cy="247.5" rx="1.0" ry="1.0" fill="#111" opacity="0.25" transform="rotate(0 123.8 247.5)" filter="url(#bl)"/>
<rect x="136.3" y="236.3" width="21.19999999999999" height="20.0" fill="none" stroke="#333" stroke-width="0.8"/>
<rect x="146.9" y="236.3" width="10.599999999999989" height="7.5" fill="none" stroke="#333" stroke-width="0.8"/>
<rect x="132.70000000000002" y="238.3" width="2.2" height="0.8" fill="#ccc" />
<rect x="137.3" y="257.7" width="2.2" height="0.8" fill="#ccc" />
<rect x="132.70000000000002" y="242.10000000000002" width="2.2" height="0.8" fill="#ccc" />
<rect x="141.5" y="257.7" width="2.2" height="0.8" fill="#ccc" />
<rect x="132.70000000000002" y="245.9" width="2.2" height="0.8" fill="#ccc" />
<rect x="145.70000000000002" y="257.7" width="2.2" height="0.8" fill="#ccc" />
<rect x="132.70000000000002" y="249.70000000000002" width="2.2" height="0.8" fill="#ccc" />
<rect x="149.9" y="257.7" width="2.2" height="0.8" fill="#ccc" />
<rect x="132.70000000000002" y="253.5" width="2.2" height="0.8" fill="#ccc" />
<rect x="154.10000000000002" y="257.7" width="2.2" height="0.8" fill="#ccc" />
<rect x="136.3" y="271.3" width="21.19999999999999" height="20.69999999999999" fill="none" stroke="#333" stroke-width="0.8"/>
<rect x="146.9" y="271.3" width="10.599999999999989" height="8.699999999999989" fill="none" stroke="#333" stroke-width="0.8"/>
<rect x="132.70000000000002" y="273.3" width="2.2" height="0.8" fill="#ccc" />
<rect x="137.3" y="293.4" width="2.2" height="0.8" fill="#ccc" />
<rect x="132.70000000000002" y="277.1" width="2.2" height="0.8" fill="#ccc" />
<rect x="141.5" y="293.4" width="2.2" height="0.8" fill="#ccc" />
<rect x="132.70000000000002" y="280.90000000000003" width="2.2" height="0.8" fill="#ccc" />
<rect x="145.70000000000002" y="293.4" width="2.2" height="0.8" fill="#ccc" />
<rect x="132.70000000000002" y="284.7" width="2.2" height="0.8" fill="#ccc" />
<rect x="149.9" y="293.4" width="2.2" height="0.8" fill="#ccc" />
<rect x="132.70000000000002" y="288.5" width="2.2" height="0.8" fill="#ccc" />
<rect x="154.10000000000002" y="293.4" width="2.2" height="0.8" fill="#ccc" />
<ellipse cx="151.3" cy="247.5" rx="1.0" ry="1.0" fill="#111" opacity="0.25" transform="rotate(0 151.3 247.5)" filter="url(#bl)"/>
<ellipse cx="67.9" cy="279.2" rx="1.5" ry="4.2" fill="#111" opacity="0.5" transform="rotate(0 67.9 279.2)" filter="url(#bl)"/>
<ellipse cx="95.6" cy="280.6" rx="1.5" ry="2.8" fill="#111" opacity="0.5" transform="rotate(0 95.6 280.6)" filter="url(#bl)"/>
<ellipse cx="123.1" cy="281.2" rx="1.4" ry="3.0" fill="#111" opacity="0.5" transform="rotate(0 123.1 281.2)" filter="url(#bl)"/>
<ellipse cx="150.6" cy="281.0" rx="1.4" ry="3.0" fill="#111" opacity="0.5" transform="rotate(0 150.6 281.0)" filter="url(#bl)"/>
<text x="59.6" y="307.1" font-size="9.8" textLength="12.8" lengthAdjust="spacingAndGlyphs" >CD8</text>
<text x="87.6" y="307.1" font-size="9.8" textLength="13.0" lengthAdjust="spacingAndGlyphs" >CD8</text>
<text x="115.1" y="307.1" font-size="9.8" textLength="12.5" lengthAdjust="spacingAndGlyphs" >CD8</text>
<text x="142.6" y="307.1" font-size="9.8" textLength="12.6" lengthAdjust="spacingAndGlyphs" >CD8</text>
<text x="13.6" y="242.7" font-size="8.6" textLength="26.4" lengthAdjust="spacingAndGlyphs" class="c" >CD45RO<tspan font-size="5.5" dy="-3">−</tspan></text>
<text x="21.4" y="251.7" font-size="8.6" textLength="13.0" lengthAdjust="spacingAndGlyphs" class="c" >Non-</text>
<text x="16.3" y="260.2" font-size="8.6" textLength="25.0" lengthAdjust="spacingAndGlyphs" class="c" >memory</text>
<text x="12.3" y="281.1" font-size="8.6" textLength="30.3" lengthAdjust="spacingAndGlyphs" class="c" >CD45RO<tspan font-size="5.5" dy="-3">+</tspan></text>
<text x="15.4" y="291.9" font-size="8.6" textLength="24.8" lengthAdjust="spacingAndGlyphs" class="c" >memory</text>
<rect x="14.7" y="329.9" width="3.2" height="3.4" fill="#1b4a8b" />
<text x="22.5" y="333.9" font-size="6.3" textLength="68.7" lengthAdjust="spacingAndGlyphs" >CD45RO<tspan font-size="4.5" dy="-2.5">−</tspan><tspan dy="2.5"> non-memory</tspan></text>
<rect x="97.5" y="329.7" width="4" height="4" fill="#c8102e" />
<text x="104.7" y="333.9" font-size="6.3" textLength="55.7" lengthAdjust="spacingAndGlyphs" >CD45RO<tspan font-size="4.5" dy="-2.5">+</tspan><tspan dy="2.5"> memory</tspan></text>
<line x1="45.9" y1="342.5" x2="45.9" y2="393" stroke="#222" stroke-width="1.1" />
<line x1="45.9" y1="393" x2="150" y2="393" stroke="#222" stroke-width="1.0" />
<line x1="42.8" y1="393.0" x2="45.9" y2="393.0" stroke="#222" stroke-width="0.9" />
<text x="39.8" y="395.47" font-size="6.9" text-anchor="end" >0</text>
<line x1="42.8" y1="381.125" x2="45.9" y2="381.125" stroke="#222" stroke-width="0.9" />
<text x="39.8" y="383.6" font-size="6.9" text-anchor="end" textLength="6.6" lengthAdjust="spacingAndGlyphs" >20</text>
<line x1="42.8" y1="369.25" x2="45.9" y2="369.25" stroke="#222" stroke-width="0.9" />
<text x="39.8" y="371.72" font-size="6.9" text-anchor="end" textLength="6.6" lengthAdjust="spacingAndGlyphs" >40</text>
<line x1="42.8" y1="357.375" x2="45.9" y2="357.375" stroke="#222" stroke-width="0.9" />
<text x="39.8" y="359.85" font-size="6.9" text-anchor="end" textLength="6.6" lengthAdjust="spacingAndGlyphs" >60</text>
<line x1="42.8" y1="345.5" x2="45.9" y2="345.5" stroke="#222" stroke-width="0.9" />
<text x="39.8" y="347.97" font-size="6.9" text-anchor="end" textLength="6.6" lengthAdjust="spacingAndGlyphs" >80</text>
<text transform="translate(17.4 370.8) rotate(-90)" font-size="9.2" text-anchor="middle" textLength="42.5" lengthAdjust="spacingAndGlyphs" class="c" >% Positive of</text>
<text transform="translate(27.6 369.9) rotate(-90)" font-size="9.2" text-anchor="middle" textLength="60.7" lengthAdjust="spacingAndGlyphs" class="c" >CD3<tspan font-size="5.4" dy="-3.1">+</tspan><tspan dy="3.1"> CD8</tspan><tspan font-size="5.4" dy="-3.1">+</tspan><tspan dy="3.1"> T cells</tspan></text>
<rect x="49.5" y="390.3" width="2.8" height="2.6999999999999886" fill="#1b4a8b" />
<line x1="50.9" y1="389.3" x2="50.9" y2="390.3" stroke="#1b4a8b" stroke-width="0.7" />
<line x1="49.6" y1="389.3" x2="52.199999999999996" y2="389.3" stroke="#1b4a8b" stroke-width="0.6" />
<rect x="58.800000000000004" y="360.5" width="2.8" height="32.5" fill="#c8102e" />
<line x1="60.2" y1="358" x2="60.2" y2="360.5" stroke="#c8102e" stroke-width="0.7" />
<line x1="58.900000000000006" y1="358" x2="61.5" y2="358" stroke="#c8102e" stroke-width="0.6" />
<text x="60.2" y="357.0" font-size="5.5" text-anchor="middle" >*</text>
<rect x="77.8" y="392.0" width="2.8" height="1.0" fill="#1b4a8b" />
<rect x="87.19999999999999" y="358.3" width="2.8" height="34.69999999999999" fill="#c8102e" />
<line x1="88.6" y1="352.3" x2="88.6" y2="358.3" stroke="#c8102e" stroke-width="0.7" />
<line x1="87.3" y1="352.3" x2="89.89999999999999" y2="352.3" stroke="#c8102e" stroke-width="0.6" />
<text x="88.6" y="351.3" font-size="5.5" text-anchor="middle" >*</text>
<rect x="115.39999999999999" y="362.9" width="2.8" height="30.100000000000023" fill="#c8102e" />
<line x1="116.8" y1="361.2" x2="116.8" y2="362.9" stroke="#c8102e" stroke-width="0.7" />
<line x1="115.5" y1="361.2" x2="118.1" y2="361.2" stroke="#c8102e" stroke-width="0.6" />
<text x="116.8" y="360.2" font-size="5.5" text-anchor="middle" >*</text>
<rect x="134.29999999999998" y="387.7" width="2.8" height="5.300000000000011" fill="#1b4a8b" />
<line x1="135.7" y1="386.8" x2="135.7" y2="387.7" stroke="#1b4a8b" stroke-width="0.7" />
<line x1="134.39999999999998" y1="386.8" x2="137.0" y2="386.8" stroke="#1b4a8b" stroke-width="0.6" />
<rect x="143.79999999999998" y="360.9" width="2.8" height="32.10000000000002" fill="#c8102e" />
<line x1="145.2" y1="357.2" x2="145.2" y2="360.9" stroke="#c8102e" stroke-width="0.7" />
<line x1="143.89999999999998" y1="357.2" x2="146.5" y2="357.2" stroke="#c8102e" stroke-width="0.6" />
<text x="145.2" y="356.2" font-size="5.5" text-anchor="middle" >*</text>
<line x1="50.9" y1="393" x2="50.9" y2="395.4" stroke="#222" stroke-width="0.7" />
<line x1="60.2" y1="393" x2="60.2" y2="395.4" stroke="#222" stroke-width="0.7" />
<line x1="79.2" y1="393" x2="79.2" y2="395.4" stroke="#222" stroke-width="0.7" />
<line x1="88.6" y1="393" x2="88.6" y2="395.4" stroke="#222" stroke-width="0.7" />
<line x1="107.6" y1="393" x2="107.6" y2="395.4" stroke="#222" stroke-width="0.7" />
<line x1="116.8" y1="393" x2="116.8" y2="395.4" stroke="#222" stroke-width="0.7" />
<line x1="135.7" y1="393" x2="135.7" y2="395.4" stroke="#222" stroke-width="0.7" />
<line x1="145.2" y1="393" x2="145.2" y2="395.4" stroke="#222" stroke-width="0.7" />
<text x="43.2" y="405.0" font-size="6.8" textLength="23.8" lengthAdjust="spacingAndGlyphs" >CD107a</text>
<text x="76.2" y="405.0" font-size="6.8" textLength="15.8" lengthAdjust="spacingAndGlyphs" >IFN-γ</text>
<text x="107" y="405.0" font-size="6.8" textLength="9.2" lengthAdjust="spacingAndGlyphs" >IL-2</text>
<text x="130.5" y="405.0" font-size="6.8" textLength="19.5" lengthAdjust="spacingAndGlyphs" >TNF-α</text>
<text x="238.5" y="215.2" font-size="6.6" textLength="67.7" lengthAdjust="spacingAndGlyphs" >Target: U266 MM cells</text>
<line x1="208.6" y1="225.6" x2="229.6" y2="225.6" stroke="#111" stroke-width="0.8" />
<path d="M208.1 225.6 L212.1 224.0 L212.1 227.2 Z" fill="#111"/>
<text x="234.5" y="228.5" font-size="6.6" textLength="74.7" lengthAdjust="spacingAndGlyphs" >BCMA iPSC-CD8<tspan font-size="4.5" dy="-2.6">+</tspan><tspan dy="2.6"> T cells</tspan></text>
<line x1="314.5" y1="225.6" x2="335.4" y2="225.6" stroke="#111" stroke-width="0.8" />
<path d="M335.9 225.6 L331.9 224.0 L331.9 227.2 Z" fill="#111"/>
<text x="215.4" y="238.6" font-size="6.6" textLength="22.1" lengthAdjust="spacingAndGlyphs" >Central</text>
<text x="215.4" y="246.9" font-size="6.6" textLength="24.0" lengthAdjust="spacingAndGlyphs" >memory</text>
<text x="267" y="238.6" font-size="6.6" textLength="23.8" lengthAdjust="spacingAndGlyphs" >Effector</text>
<text x="267" y="246.9" font-size="6.6" textLength="24.7" lengthAdjust="spacingAndGlyphs" >memory</text>
<text x="314.5" y="238.6" font-size="6.6" textLength="25.5" lengthAdjust="spacingAndGlyphs" >Terminal</text>
<text x="314.5" y="246.9" font-size="6.6" textLength="24.0" lengthAdjust="spacingAndGlyphs" >effector</text>
<text x="228.3" y="257.7" font-size="6.6" textLength="14.2" lengthAdjust="spacingAndGlyphs" >87%</text>
<text x="280.6" y="257.7" font-size="6.6" textLength="13.2" lengthAdjust="spacingAndGlyphs" >62%</text>
<text x="330.8" y="257.7" font-size="6.6" textLength="13.2" lengthAdjust="spacingAndGlyphs" >23%</text>
<text transform="translate(200.1 274.8) rotate(-90)" font-size="9.0" text-anchor="middle" textLength="36.3" lengthAdjust="spacingAndGlyphs" class="c" >Granzyme B</text>
<rect x="215.4" y="261.9" width="29.799999999999983" height="22.5" fill="none" stroke="#666" stroke-width="0.6"/>
<line x1="215.4" y1="262.9" x2="215.4" y2="284.4" stroke="#333" stroke-width="0.9" />
<line x1="215.4" y1="284.4" x2="243.2" y2="284.4" stroke="#333" stroke-width="0.9" />
<rect x="214.4" y="264.8" width="1.8" height="1.8" fill="#111" />
<rect x="218.5" y="283.59999999999997" width="1.8" height="1.6" fill="#111" />
<rect x="209.6" y="264.5" width="3.0" height="2.2" fill="#c4c4c4" />
<rect x="217.6" y="288.0" width="3.4" height="2.0" fill="#c4c4c4" />
<rect x="214.4" y="269.83333333333337" width="1.8" height="1.8" fill="#111" />
<rect x="225.96666666666667" y="283.59999999999997" width="1.8" height="1.6" fill="#111" />
<rect x="209.6" y="269.53333333333336" width="3.0" height="2.2" fill="#c4c4c4" />
<rect x="225.06666666666666" y="288.0" width="3.4" height="2.0" fill="#c4c4c4" />
<rect x="214.4" y="274.8666666666667" width="1.8" height="1.8" fill="#111" />
<rect x="233.4333333333333" y="283.59999999999997" width="1.8" height="1.6" fill="#111" />
<rect x="209.6" y="274.56666666666666" width="3.0" height="2.2" fill="#c4c4c4" />
<rect x="232.5333333333333" y="288.0" width="3.4" height="2.0" fill="#c4c4c4" />
<rect x="214.4" y="279.90000000000003" width="1.8" height="1.8" fill="#111" />
<rect x="240.89999999999998" y="283.59999999999997" width="1.8" height="1.6" fill="#111" />
<rect x="209.6" y="279.6" width="3.0" height="2.2" fill="#c4c4c4" />
<rect x="239.99999999999997" y="288.0" width="3.4" height="2.0" fill="#c4c4c4" />
<rect x="228.4" y="263.8" width="15.599999999999994" height="15.0" fill="none" stroke="#555" stroke-width="0.6"/>
<rect x="267.7" y="261.9" width="29.19999999999999" height="22.5" fill="none" stroke="#666" stroke-width="0.6"/>
<line x1="267.7" y1="262.9" x2="267.7" y2="284.4" stroke="#333" stroke-width="0.9" />
<line x1="267.7" y1="284.4" x2="294.9" y2="284.4" stroke="#333" stroke-width="0.9" />
<rect x="266.7" y="264.8" width="1.8" height="1.8" fill="#111" />
<rect x="270.8" y="283.59999999999997" width="1.8" height="1.6" fill="#111" />
<rect x="261.9" y="264.5" width="3.0" height="2.2" fill="#c4c4c4" />
<rect x="269.9" y="288.0" width="3.4" height="2.0" fill="#c4c4c4" />
<rect x="266.7" y="269.83333333333337" width="1.8" height="1.8" fill="#111" />
<rect x="278.06666666666666" y="283.59999999999997" width="1.8" height="1.6" fill="#111" />
<rect x="261.9" y="269.53333333333336" width="3.0" height="2.2" fill="#c4c4c4" />
<rect x="277.16666666666663" y="288.0" width="3.4" height="2.0" fill="#c4c4c4" />
<rect x="266.7" y="274.8666666666667" width="1.8" height="1.8" fill="#111" />
<rect x="285.3333333333333" y="283.59999999999997" width="1.8" height="1.6" fill="#111" />
<rect x="261.9" y="274.56666666666666" width="3.0" height="2.2" fill="#c4c4c4" />
<rect x="284.4333333333333" y="288.0" width="3.4" height="2.0" fill="#c4c4c4" />
<rect x="266.7" y="279.90000000000003" width="1.8" height="1.8" fill="#111" />
<rect x="292.6" y="283.59999999999997" width="1.8" height="1.6" fill="#111" />
<rect x="261.9" y="279.6" width="3.0" height="2.2" fill="#c4c4c4" />
<rect x="291.7" y="288.0" width="3.4" height="2.0" fill="#c4c4c4" />
<rect x="280.2" y="263.8" width="15.5" height="14.099999999999966" fill="none" stroke="#555" stroke-width="0.6"/>
<rect x="317.7" y="261.9" width="29.600000000000023" height="22.5" fill="none" stroke="#666" stroke-width="0.6"/>
<line x1="317.7" y1="262.9" x2="317.7" y2="284.4" stroke="#333" stroke-width="0.9" />
<line x1="317.7" y1="284.4" x2="345.3" y2="284.4" stroke="#333" stroke-width="0.9" />
<rect x="316.7" y="264.8" width="1.8" height="1.8" fill="#111" />
<rect x="320.8" y="283.59999999999997" width="1.8" height="1.6" fill="#111" />
<rect x="311.9" y="264.5" width="3.0" height="2.2" fill="#c4c4c4" />
<rect x="319.9" y="288.0" width="3.4" height="2.0" fill="#c4c4c4" />
<rect x="316.7" y="269.83333333333337" width="1.8" height="1.8" fill="#111" />
<rect x="328.20000000000005" y="283.59999999999997" width="1.8" height="1.6" fill="#111" />
<rect x="311.9" y="269.53333333333336" width="3.0" height="2.2" fill="#c4c4c4" />
<rect x="327.3" y="288.0" width="3.4" height="2.0" fill="#c4c4c4" />
<rect x="316.7" y="274.8666666666667" width="1.8" height="1.8" fill="#111" />
<rect x="335.6" y="283.59999999999997" width="1.8" height="1.6" fill="#111" />
<rect x="311.9" y="274.56666666666666" width="3.0" height="2.2" fill="#c4c4c4" />
<rect x="334.7" y="288.0" width="3.4" height="2.0" fill="#c4c4c4" />
<rect x="316.7" y="279.90000000000003" width="1.8" height="1.8" fill="#111" />
<rect x="343.00000000000006" y="283.59999999999997" width="1.8" height="1.6" fill="#111" />
<rect x="311.9" y="279.6" width="3.0" height="2.2" fill="#c4c4c4" />
<rect x="342.1" y="288.0" width="3.4" height="2.0" fill="#c4c4c4" />
<rect x="329.6" y="263.8" width="16.5" height="13.199999999999989" fill="none" stroke="#555" stroke-width="0.6"/>
<ellipse cx="236.4" cy="276.1" rx="5.0" ry="2.4" fill="#111" opacity="0.95" transform="rotate(0 236.4 276.1)" filter="url(#bl)"/>
<ellipse cx="287.4" cy="278.0" rx="4.9" ry="3.1" fill="#111" opacity="0.95" transform="rotate(0 287.4 278.0)" filter="url(#bl)"/>
<ellipse cx="337.2" cy="278.7" rx="4.2" ry="2.4" fill="#111" opacity="0.55" transform="rotate(0 337.2 278.7)" filter="url(#bl)"/>
<text x="228.7" y="301.0" font-size="9.6" textLength="13.4" lengthAdjust="spacingAndGlyphs" >CD8</text>
<text x="280.2" y="301.0" font-size="9.6" textLength="12.9" lengthAdjust="spacingAndGlyphs" >CD8</text>
<text x="327.7" y="301.0" font-size="9.6" textLength="12.7" lengthAdjust="spacingAndGlyphs" >CD8</text>
<line x1="229.6" y1="323.8" x2="229.6" y2="371.4" stroke="#222" stroke-width="0.9" />
<line x1="229.6" y1="371.4" x2="347.5" y2="371.4" stroke="#222" stroke-width="0.9" />
<line x1="226.6" y1="371.4" x2="229.6" y2="371.4" stroke="#222" stroke-width="0.8" />
<text x="222.9" y="373.87" font-size="6.9" text-anchor="end" >0</text>
<line x1="226.6" y1="362.5" x2="229.6" y2="362.5" stroke="#222" stroke-width="0.8" />
<text x="222.9" y="364.97" font-size="6.9" text-anchor="end" textLength="6.6" lengthAdjust="spacingAndGlyphs" >20</text>
<line x1="226.6" y1="353.59999999999997" x2="229.6" y2="353.59999999999997" stroke="#222" stroke-width="0.8" />
<text x="222.9" y="356.07" font-size="6.9" text-anchor="end" textLength="6.6" lengthAdjust="spacingAndGlyphs" >40</text>
<line x1="226.6" y1="344.7" x2="229.6" y2="344.7" stroke="#222" stroke-width="0.8" />
<text x="222.9" y="347.17" font-size="6.9" text-anchor="end" textLength="6.6" lengthAdjust="spacingAndGlyphs" >60</text>
<line x1="226.6" y1="335.79999999999995" x2="229.6" y2="335.79999999999995" stroke="#222" stroke-width="0.8" />
<text x="222.9" y="338.27" font-size="6.9" text-anchor="end" textLength="6.6" lengthAdjust="spacingAndGlyphs" >80</text>
<line x1="226.6" y1="326.9" x2="229.6" y2="326.9" stroke="#222" stroke-width="0.8" />
<text x="222.9" y="329.37" font-size="6.9" text-anchor="end" textLength="9.9" lengthAdjust="spacingAndGlyphs" >100</text>
<text transform="translate(196.6 347) rotate(-90)" font-size="9.2" text-anchor="middle" textLength="56.7" lengthAdjust="spacingAndGlyphs" class="c" >% Granzyme B<tspan font-size="5.4" dy="-3.1">+</tspan><tspan dy="3.1"> of</tspan></text>
<text transform="translate(206.6 347.5) rotate(-90)" font-size="9.2" text-anchor="middle" textLength="55.8" lengthAdjust="spacingAndGlyphs" class="c" >CD3<tspan font-size="5.4" dy="-3.1">+</tspan><tspan dy="3.1"> CD8</tspan><tspan font-size="5.4" dy="-3.1">+</tspan><tspan dy="3.1"> T cells</tspan></text>
<rect x="243.2" y="333" width="12" height="38.39999999999998" fill="#c8102e" />
<line x1="249.2" y1="330.5" x2="249.2" y2="333" stroke="#c8102e" stroke-width="0.7" />
<line x1="247.7" y1="330.5" x2="250.7" y2="330.5" stroke="#c8102e" stroke-width="0.6" />
<text x="249.2" y="329.2" font-size="5.5" text-anchor="middle" >*</text>
<line x1="249.2" y1="371.4" x2="249.2" y2="373.6" stroke="#222" stroke-width="0.7" />
<rect x="282.4" y="344.5" width="12" height="26.899999999999977" fill="#c8102e" />
<line x1="288.4" y1="341.2" x2="288.4" y2="344.5" stroke="#c8102e" stroke-width="0.7" />
<line x1="286.9" y1="341.2" x2="289.9" y2="341.2" stroke="#c8102e" stroke-width="0.6" />
<text x="288.4" y="339.9" font-size="5.5" text-anchor="middle" >*</text>
<line x1="288.4" y1="371.4" x2="288.4" y2="373.6" stroke="#222" stroke-width="0.7" />
<rect x="321.9" y="361.2" width="12" height="10.199999999999989" fill="#c8102e" />
<line x1="327.9" y1="357.5" x2="327.9" y2="361.2" stroke="#c8102e" stroke-width="0.7" />
<line x1="326.4" y1="357.5" x2="329.4" y2="357.5" stroke="#c8102e" stroke-width="0.6" />
<line x1="327.9" y1="371.4" x2="327.9" y2="373.6" stroke="#222" stroke-width="0.7" />
<text x="238" y="383.6" font-size="6.6" textLength="22" lengthAdjust="spacingAndGlyphs" >Central</text>
<text x="237" y="391.6" font-size="6.6" textLength="24.2" lengthAdjust="spacingAndGlyphs" >memory</text>
<text x="277" y="383.6" font-size="6.6" textLength="23" lengthAdjust="spacingAndGlyphs" >Effector</text>
<text x="276.2" y="391.6" font-size="6.6" textLength="24.5" lengthAdjust="spacingAndGlyphs" >memory</text>
<text x="315.5" y="383.6" font-size="6.6" textLength="24.5" lengthAdjust="spacingAndGlyphs" >Terminal</text>
<text x="316.2" y="391.6" font-size="6.6" textLength="23.3" lengthAdjust="spacingAndGlyphs" >effector</text>
<text x="238.7" y="404.1" font-size="10.2" textLength="98.8" lengthAdjust="spacingAndGlyphs" >BCMA iPSC-CD8<tspan font-size="6" dy="-3.2">+</tspan><tspan dy="3.2"> T cells subsets</tspan></text>
<text x="408.6" y="317.6" font-size="6.6" textLength="74.9" lengthAdjust="spacingAndGlyphs" >BCMA iPSC-CD8<tspan font-size="4.5" dy="-2.6">+</tspan><tspan dy="2.6"> T cells</tspan></text>
<text x="396.8" y="330.7" font-size="6.6" textLength="98.8" lengthAdjust="spacingAndGlyphs" >Single clonogenic TCR sequence</text>
<rect x="395.3" y="338.8" width="100.9" height="25.6" fill="none" stroke="#444" stroke-width="0.9"/>
<line x1="409.3" y1="338.8" x2="409.3" y2="364.4" stroke="#444" stroke-width="0.9" />
<line x1="395.3" y1="351.5" x2="496.2" y2="351.5" stroke="#444" stroke-width="0.9" />
<text x="398.0" y="347.4" font-size="8" style="font-family:'Liberation Serif',serif">α</text>
<text x="398.6" y="359.8" font-size="8" style="font-family:'Liberation Serif',serif">β</text>
<text x="425.3" y="346.8" font-size="6.6" textLength="55.5" lengthAdjust="spacingAndGlyphs" >TRAV12-1 / TRAJ8</text>
<text x="422.6" y="359.8" font-size="6.6" textLength="61.4" lengthAdjust="spacingAndGlyphs" >TRBV20-1 / TRBJ2-7</text>
</svg>
</body></html>
